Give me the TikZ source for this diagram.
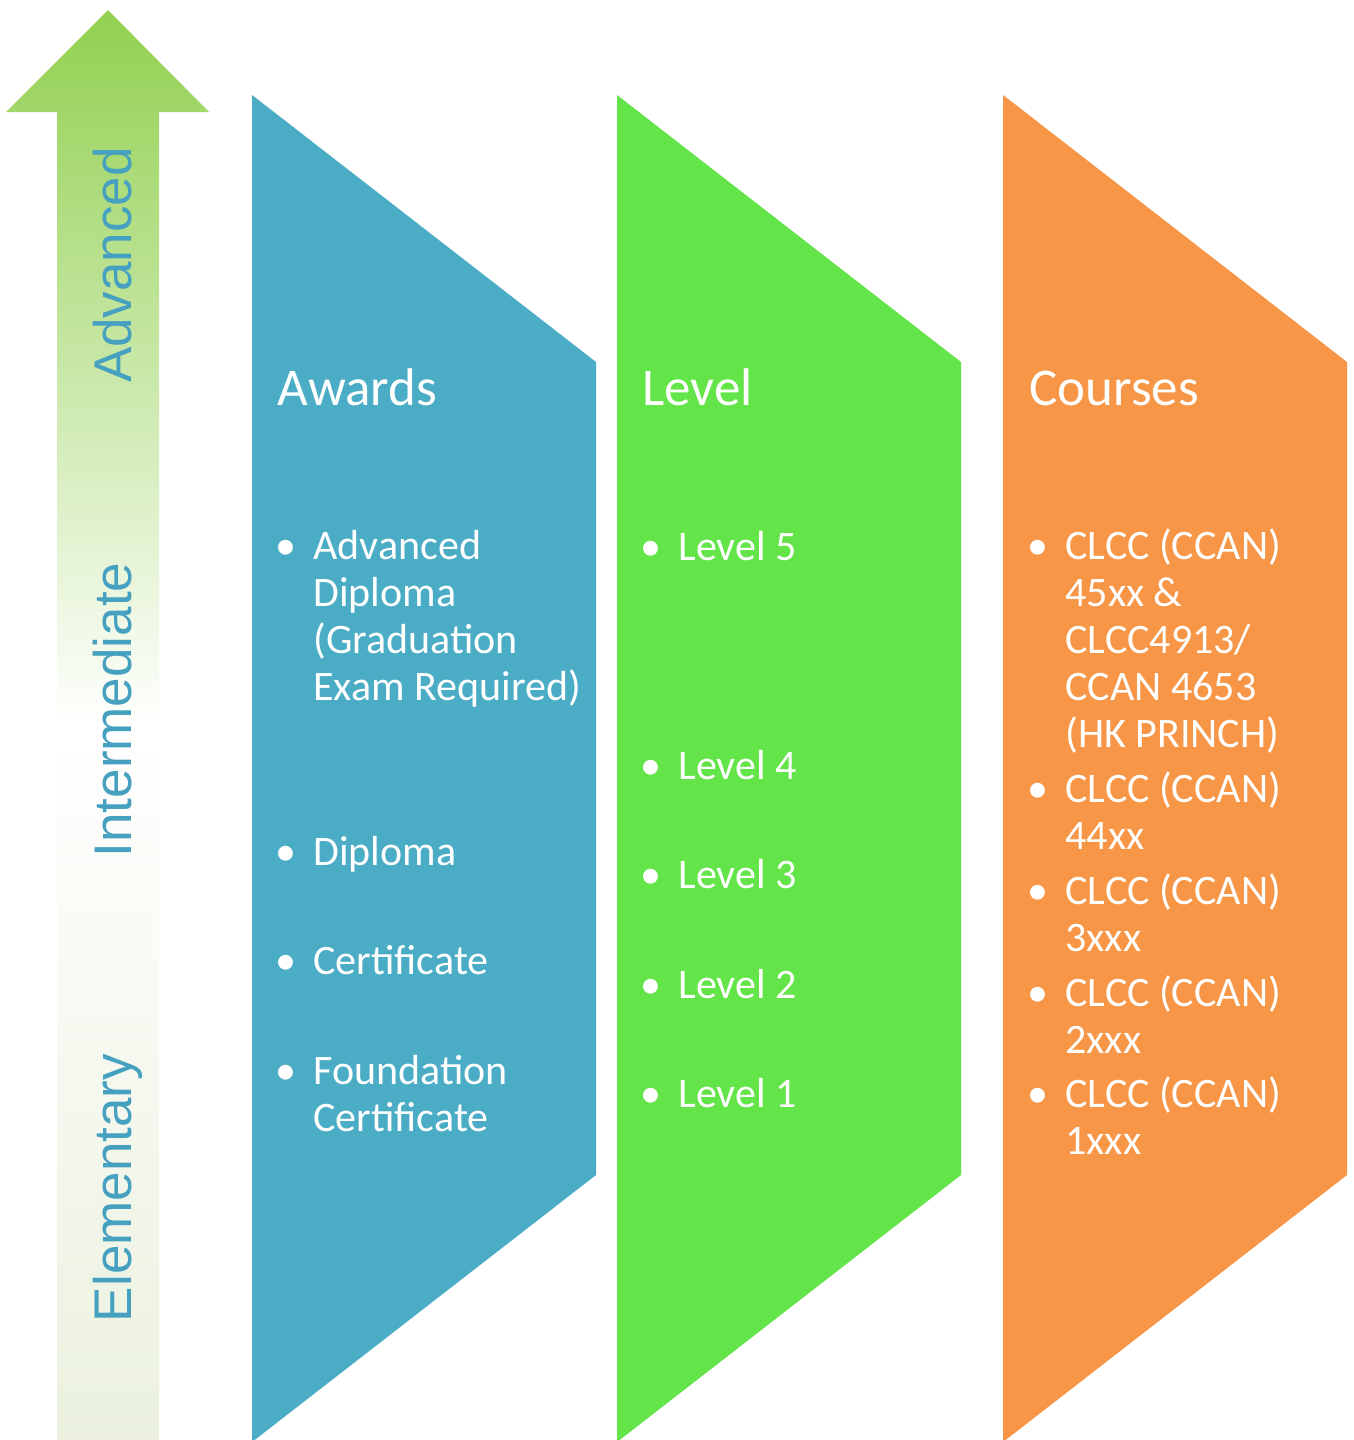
\documentclass[tikz,border=0pt]{standalone}
\usepackage{fontspec}
\setmainfont{Carlito}
\newfontfamily\stagefont{Liberation Sans}
\usepackage{tikz}
\usetikzlibrary{positioning}

\definecolor{awardsblue}{RGB}{75,172,198}
\definecolor{levelgreen}{RGB}{99,228,73}
\definecolor{courseorange}{RGB}{247,150,70}
\definecolor{arrowtop}{RGB}{146,208,80}
\definecolor{arrowbottom}{RGB}{235,241,222}
\definecolor{stagetext}{RGB}{70,160,192}

\pgfdeclareverticalshading{stageshade}{100bp}{color(0bp)=(arrowbottom); color(25bp)=(arrowbottom); color(50bp)=(white); color(75bp)=(arrowtop); color(100bp)=(arrowtop)}

\newcommand{\stack}[1]{\begin{tabular}[t]{@{}l@{}}#1\end{tabular}}

\tikzset{
  paneltitle/.style={anchor=base west, inner sep=0pt, text=white, font=\fontsize{26.5}{30}\selectfont},
  entry/.style={anchor=base west, inner sep=0pt, text=white, font=\fontsize{21}{23.5}\selectfont},
  bulletmark/.style={anchor=base, inner sep=0pt, text=white, font=\fontsize{21}{23.5}\selectfont},
  stagelabel/.style={rotate=90, anchor=base, inner sep=0pt, text=stagetext, font=\stagefont\fontsize{26.5}{30}\selectfont}
}

\begin{document}
\begin{tikzpicture}[x=0.5pt, y=-0.5pt]
  \useasboundingbox (0,0) rectangle (1354,1440);
  \fill[white] (0,0) rectangle (1354,1440);

  % rising arrow
  \shade[shading=stageshade] (108,10) -- (209,112) -- (159,112) -- (159,1442) -- (57,1442) -- (57,112) -- (6,112) -- cycle;
  \node[stagelabel] (advanced) at (131,265) {Advanced};
  \node[stagelabel] (intermediate) at (131,710) {Intermediate};
  \node[stagelabel] (elementary) at (131,1188) {Elementary};

  % three panels
  \fill[awardsblue] (252,95) -- (596,362) -- (596,1175) -- (252,1442) -- cycle;
  \fill[levelgreen] (617,95) -- (961,362) -- (961,1175) -- (617,1442) -- cycle;
  \fill[courseorange] (1003,95) -- (1347,362) -- (1347,1175) -- (1003,1442) -- cycle;

  \node[paneltitle] (awards) at (277,405) {Awards};
  \node[paneltitle] (level) at (642,405) {Level};
  \node[paneltitle] (courses) at (1029,405) {Courses};

  \node[entry] (award1) at (313,559) {\stack{Advanced\\Diploma\\(Graduation\\Exam Required)}};
  \node[entry] (award2) at (313,865) {Diploma};
  \node[entry] (award3) at (313,974) {Certificate};
  \node[entry] (award4) at (313,1084) {\stack{Foundation\\Certificate}};

  \foreach \n/\yb in {5/560, 4/779, 3/888, 2/998, 1/1107}
    \node[entry] (level\n) at (678,\yb) {Level \n};

  \node[entry] (course1) at (1065,559) {\stack{CLCC (CCAN)\\45xx \&\\CLCC4913/\\CCAN 4653\\(HK PRINCH)}};
  \node[entry] (course2) at (1065,802) {\stack{CLCC (CCAN)\\44xx}};
  \node[entry] (course3) at (1065,904) {\stack{CLCC (CCAN)\\3xxx}};
  \node[entry] (course4) at (1065,1006) {\stack{CLCC (CCAN)\\2xxx}};
  \node[entry] (course5) at (1065,1107) {\stack{CLCC (CCAN)\\1xxx}};

  % bullets in front of every entry
  \foreach \e in {award1,award2,award3,award4,level5,level4,level3,level2,level1,course1,course2,course3,course4,course5}
    \node[bulletmark] at ([xshift=-13.5pt]\e.base west) {\textbullet};
\end{tikzpicture}
\end{document}
